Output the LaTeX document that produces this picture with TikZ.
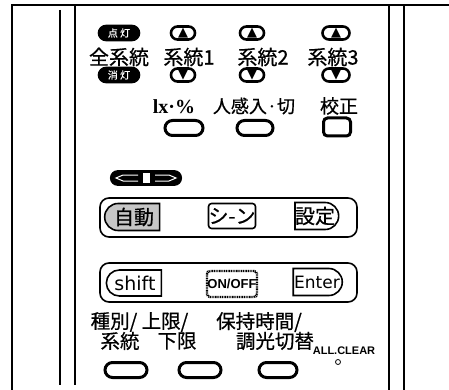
\documentclass[tikz,border=0pt]{standalone}
\usepackage{fontspec}
\newfontfamily\jp[FakeBold=0.6]{Noto Sans CJK JP}
\newfontfamily\dv{DejaVu Sans}
\newfontfamily\tms{Liberation Serif}
\newfontfamily\ars{Liberation Sans}
\usetikzlibrary{shapes.misc}

\tikzset{
  lbl/.style={font=\jp\fontsize{20}{20}\selectfont, inner sep=0pt},
  updn/.style={rounded rectangle, draw, line width=2.6pt, fill=white, minimum width=24pt,
    minimum height=13pt, inner sep=0pt, font=\dv\fontsize{13}{13}\selectfont},
  oval/.style={rounded rectangle, draw, line width=3pt, fill=white, minimum width=38pt,
    minimum height=15pt, inner sep=0pt},
  panel/.style={draw, line width=1.6pt, rounded corners=9pt, minimum width=257pt, minimum height=39pt},
  btn/.style={draw, line width=1.6pt, inner sep=0pt, font=\jp\fontsize{20}{20}\selectfont},
  lbtn/.style={btn, rounded rectangle, rounded rectangle right arc=none},
  rbtn/.style={btn, rounded rectangle, rounded rectangle left arc=none},
  mbtn/.style={btn, rounded corners=3pt}
}

\begin{document}
\begin{tikzpicture}[x=1pt,y=-1pt]
\useasboundingbox (0,0) rectangle (449,390);

% case
\draw[line width=1.6pt] (12,390) -- (12,5) -- (449,5);
\draw[line width=1.8pt] (60,10) -- (60,385);
\draw[line width=1.6pt] (75,5) -- (75,385);
\draw[line width=1.6pt] (389,5) -- (389,390);
\draw[line width=1.6pt] (404,5) -- (404,390);

% system keys
\begin{scope}[every node/.style=updn]
  \node[fill=black, text=white, minimum width=40pt, minimum height=14pt, font=\jp\fontsize{10}{10}\selectfont] (allup) at (119,33) {点 灯};
  \node[fill=black, text=white, minimum width=40pt, minimum height=14pt, font=\jp\fontsize{10}{10}\selectfont] (alldn) at (119,75) {消 灯};
  \node (s1up) at (183,33) {▲};
  \node (s1dn) at (183,75) {▼};
  \node (s2up) at (252,33) {▲};
  \node (s2dn) at (252,75) {▼};
  \node[minimum width=27pt] (s3up) at (336,33) {▲};
  \node[minimum width=27pt] (s3dn) at (336,75) {▼};
\end{scope}

\begin{scope}[every node/.style=lbl]
  \node (all) at (119,57) {全系統};
  \node (s1) at (189,57) {系統1};
  \node (s2) at (263,57) {系統2};
  \node (s3) at (333,57) {系統3};
  \node[font=\tms\bfseries\fontsize{20}{20}\selectfont] (lx) at (174,107) {lx·\%};
  \node[font=\jp\fontsize{18}{18}\selectfont] (sensor) at (254,106) {人感入·切};
  \node[font=\jp\fontsize{19}{19}\selectfont] (calib) at (339,106) {校正};
\end{scope}

\begin{scope}[every node/.style=oval]
  \node (lxkey) at (184,128) {};
  \node[minimum width=36pt] (sensorkey) at (255,128) {};
  \node[rectangle, rounded corners=4pt, minimum width=27pt, minimum height=18pt] (calibkey) at (337,127) {};
\end{scope}

% scroll key
\node[rounded rectangle, draw, line width=1.8pt, fill=black, minimum width=77pt, minimum height=14pt] (scroll) at (146,178) {};
\fill[white] (143,173) rectangle (150,183);
\draw[white, line width=1pt] (138,175) -- (123,175) -- (116,178) -- (123,181) -- (138,181);
\draw[white, line width=1pt] (155,175) -- (169,175) -- (176,178) -- (169,181) -- (155,181);

% mode panel
\node[panel] (row1) at (228.5,217.5) {};
\node[lbtn, fill=gray!45, minimum width=55pt, minimum height=27pt] (auto) at (134,217) {自動};
\node[mbtn, minimum width=41pt, minimum height=25pt] (scene) at (232,216) {シ-ン};
\node[rbtn, minimum width=43pt, minimum height=27pt] (setting) at (315,216) {設定};

% shift panel
\node[panel] (row2) at (228.5,282.5) {};
\node[lbtn, font=\dv\fontsize{19}{19}\selectfont, minimum width=55pt, minimum height=26pt] (shift) at (135,283) {shift};
\node[mbtn, line width=2.4pt, dash pattern=on 1pt off 0.7pt, font=\ars\bfseries\fontsize{13}{13}\selectfont,
  minimum width=50pt, minimum height=26pt] (onoff) at (232,284) {ON/OFF};
\node[rbtn, font=\dv\fontsize{17}{17}\selectfont, minimum width=49pt, minimum height=27pt] (enter) at (317,282) {Enter};

% bottom keys
\begin{scope}[every node/.style=lbl]
  \node[font=\jp\fontsize{19.5}{19.5}\selectfont] (kind) at (114,322) {種別/};
  \node[font=\jp\fontsize{19.5}{19.5}\selectfont] (limit) at (165,322) {上限/};
  \node[font=\jp\fontsize{19.5}{19.5}\selectfont] (hold) at (259,322) {保持時間/};
  \node[font=\jp\fontsize{19.5}{19.5}\selectfont] (kind2) at (120,341) {系統};
  \node[font=\jp\fontsize{19.5}{19.5}\selectfont] (limit2) at (177,341) {下限};
  \node[font=\jp\fontsize{19.5}{19.5}\selectfont] (hold2) at (275,341) {調光切替};
  \node[font=\ars\bfseries\fontsize{11}{11}\selectfont] (clear) at (344,351) {ALL.CLEAR};
\end{scope}

\begin{scope}[every node/.style=oval]
  \node[minimum width=42pt] (kindkey) at (126,370) {};
  \node[minimum width=42pt] (limitkey) at (200,370) {};
  \node (holdkey) at (278,370) {};
\end{scope}
\node[circle, draw, thick, inner sep=0pt, minimum size=5pt] (clearhole) at (338,362) {};

\end{tikzpicture}
\end{document}
